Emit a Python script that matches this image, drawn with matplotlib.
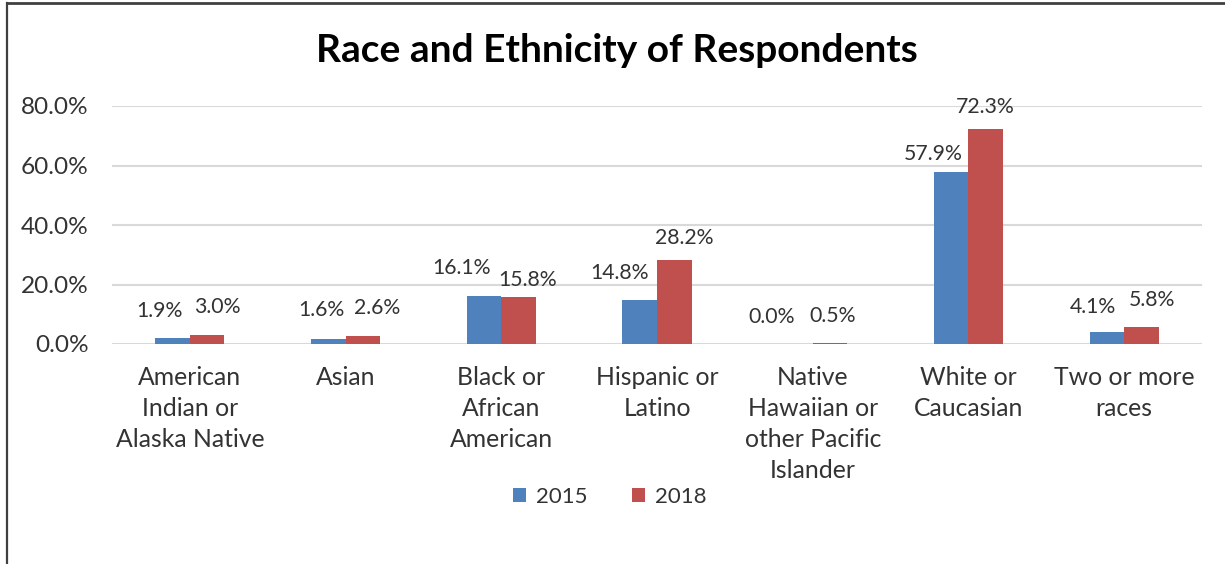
import matplotlib
matplotlib.use("Agg")
import matplotlib.pyplot as plt
from matplotlib.patches import Patch
from matplotlib.lines import Line2D
from matplotlib.ticker import FuncFormatter
import numpy as np

categories = [
    "American\nIndian or\nAlaska Native",
    "Asian",
    "Black or\nAfrican\nAmerican",
    "Hispanic or\nLatino",
    "Native\nHawaiian or\nother Pacific\nIslander",
    "White or\nCaucasian",
    "Two or more\nraces",
]
values_2015 = [1.9, 1.6, 16.1, 14.8, 0.0, 57.9, 4.1]
values_2018 = [3.0, 2.6, 15.8, 28.2, 0.5, 72.3, 5.8]
series_names = ["2015", "2018"]
y_ticks = [0, 20, 40, 60, 80]

# label nudges (pixels) so neighbouring value labels don't collide
offsets_2015 = [(-13, 27), (-7, 29), (-22, 28), (-20, 27), (-24, 27), (-18, 18), (-14, 25)]
offsets_2018 = [(10, 28), (14, 28), (9, 17), (10, 22), (3, 27), (0, 22), (11, 27)]

BLUE = "#4F81BD"
RED = "#C0504D"
GRID = "#D9D9D9"
TEXT = "#333333"
FONT = "Lato"

plt.rcParams["font.family"] = [FONT, "DejaVu Sans"]

W, H = 1225, 564
fig = plt.figure(figsize=(W / 100, H / 100), dpi=100)
ax = fig.add_axes([112 / W, (H - 344) / H, 1090 / W, 238 / H])

x = np.arange(len(categories))
bw = 0.222
b1 = ax.bar(x - bw / 2, values_2015, bw, color=BLUE, zorder=3)
b2 = ax.bar(x + bw / 2, values_2018, bw, color=RED, zorder=3)

for bars, vals, offs in ((b1, values_2015, offsets_2015), (b2, values_2018, offsets_2018)):
    for rect, v, (dx, dy) in zip(bars, vals, offs):
        ax.annotate(f"{v:.1f}%", (rect.get_x() + rect.get_width() / 2, v),
                    xytext=(dx, dy), textcoords="offset pixels",
                    ha="center", va="center", fontsize=15.3, color=TEXT)

ax.set_xlim(-0.5, len(categories) - 0.5)
ax.set_ylim(0, 80)
ax.set_yticks(y_ticks)
ax.yaxis.set_major_formatter(FuncFormatter(lambda v, p: f"{v:.1f}%"))
ax.set_xticks(x)
ax.set_xticklabels(categories, linespacing=1.42)
ax.tick_params(axis="both", length=0, labelcolor=TEXT)
ax.tick_params(axis="x", labelsize=17.8, pad=16)
ax.tick_params(axis="y", labelsize=17.6, pad=17)
ax.grid(axis="y", color=GRID, linewidth=1.5, zorder=0)
for s in ax.spines.values():
    s.set_visible(False)

fig.text(617 / W, 1 - 50 / H, "Race and Ethnicity of Respondents",
         ha="center", va="center", fontsize=28, fontweight="bold", color="black")

handles = [Patch(facecolor=BLUE), Patch(facecolor=RED)]
fig.legend(handles, series_names, loc="center", bbox_to_anchor=(610 / W, 1 - 497 / H),
           ncol=2, frameon=False, fontsize=16, handlelength=0.6, handleheight=0.6,
           handletextpad=0.45, columnspacing=2.0, labelcolor=TEXT)

# chart frame
fig.add_artist(Line2D([7 / W, 7 / W], [0, 1 - 3 / H], color="#404040", linewidth=1.6))
fig.add_artist(Line2D([7 / W, 1], [1 - 3 / H, 1 - 3 / H], color="#404040", linewidth=2.0))

fig.savefig("out.png", dpi=100)
